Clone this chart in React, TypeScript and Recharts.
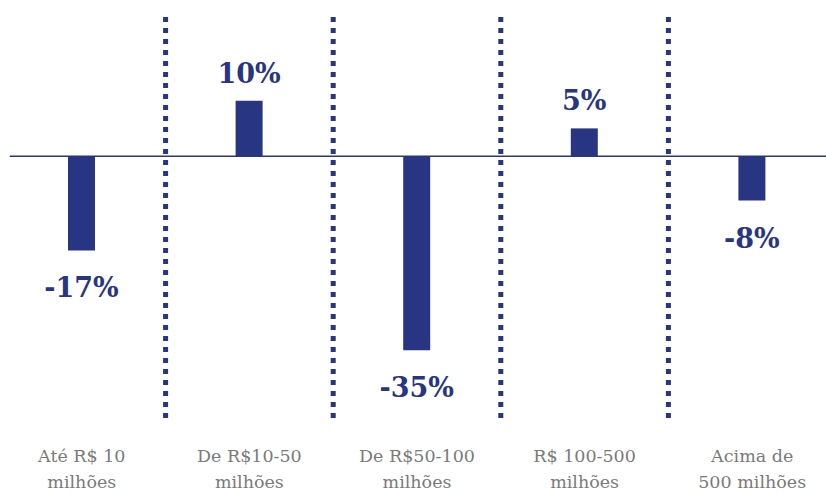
import { Bar, BarChart, LabelList, ReferenceLine, XAxis, YAxis } from "recharts";

const categoryLine1 = ["Até R$ 10", "De R$10-50", "De R$50-100", "R$ 100-500", "Acima de"];
const categoryLine2 = ["milhões", "milhões", "milhões", "milhões", "500 milhões"];
const values = [-17, 10, -35, 5, -8];
const separators = [0.5, 1.5, 2.5, 3.5];

const NAVY = "#283582";
const GREY = "#7a7a7a";

const data = values.map((value, idx) => ({ idx, value }));

const CategoryTick = (props: any) => {
  const { x, y, payload } = props;
  const i = payload.value as number;
  return (
    <text
      x={x}
      y={y + 44}
      textAnchor="middle"
      fill={GREY}
      fontFamily="'DejaVu Serif', serif"
      fontSize={17.5}
    >
      <tspan x={x}>{categoryLine1[i]}</tspan>
      <tspan x={x} dy={26}>
        {categoryLine2[i]}
      </tspan>
    </text>
  );
};

const ValueLabel = (props: any) => {
  const { x, y, width, height, value } = props;
  const cx = Number(x) + Number(width) / 2;
  const top = Math.min(Number(y), Number(y) + Number(height));
  const bottom = Math.max(Number(y), Number(y) + Number(height));
  const ly = value >= 0 ? top - 18 : bottom + 47;
  return (
    <text
      x={cx}
      y={ly}
      textAnchor="middle"
      fill={NAVY}
      fontFamily="'DejaVu Serif', serif"
      fontWeight="bold"
      fontSize={27}
    >
      {`${value}%`}
    </text>
  );
};

export default function App() {
  return (
    <div
      style={{
        position: "absolute",
        left: 0,
        top: 0,
        width: 826,
        height: 494,
        overflow: "hidden",
        background: "#fff",
      }}
    >
      <div style={{ marginLeft: -2 }}>
        <BarChart
          width={838}
          height={494}
          data={data}
          margin={{ top: 13, right: 0, bottom: 0, left: 0 }}
        >
          <XAxis
            dataKey="idx"
            type="number"
            domain={[-0.5, 4.5]}
            ticks={[0, 1, 2, 3, 4]}
            axisLine={false}
            tickLine={false}
            tickSize={0}
            tickMargin={0}
            height={76}
            tick={<CategoryTick />}
            interval={0}
          />
          <YAxis hide domain={[-47.2, 25.8]} />
          {separators.map((s) => (
            <ReferenceLine
              key={s}
              x={s}
              stroke={NAVY}
              strokeWidth={5}
              strokeDasharray="5 6"
            />
          ))}
          <ReferenceLine
            segment={[
              { x: -0.43, y: 0 },
              { x: 4.5, y: 0 },
            ]}
            stroke={NAVY}
            strokeWidth={1.5}
          />
          <Bar dataKey="value" fill={NAVY} barSize={27} isAnimationActive={false}>
            <LabelList dataKey="value" content={<ValueLabel />} />
          </Bar>
        </BarChart>
      </div>
    </div>
  );
}
